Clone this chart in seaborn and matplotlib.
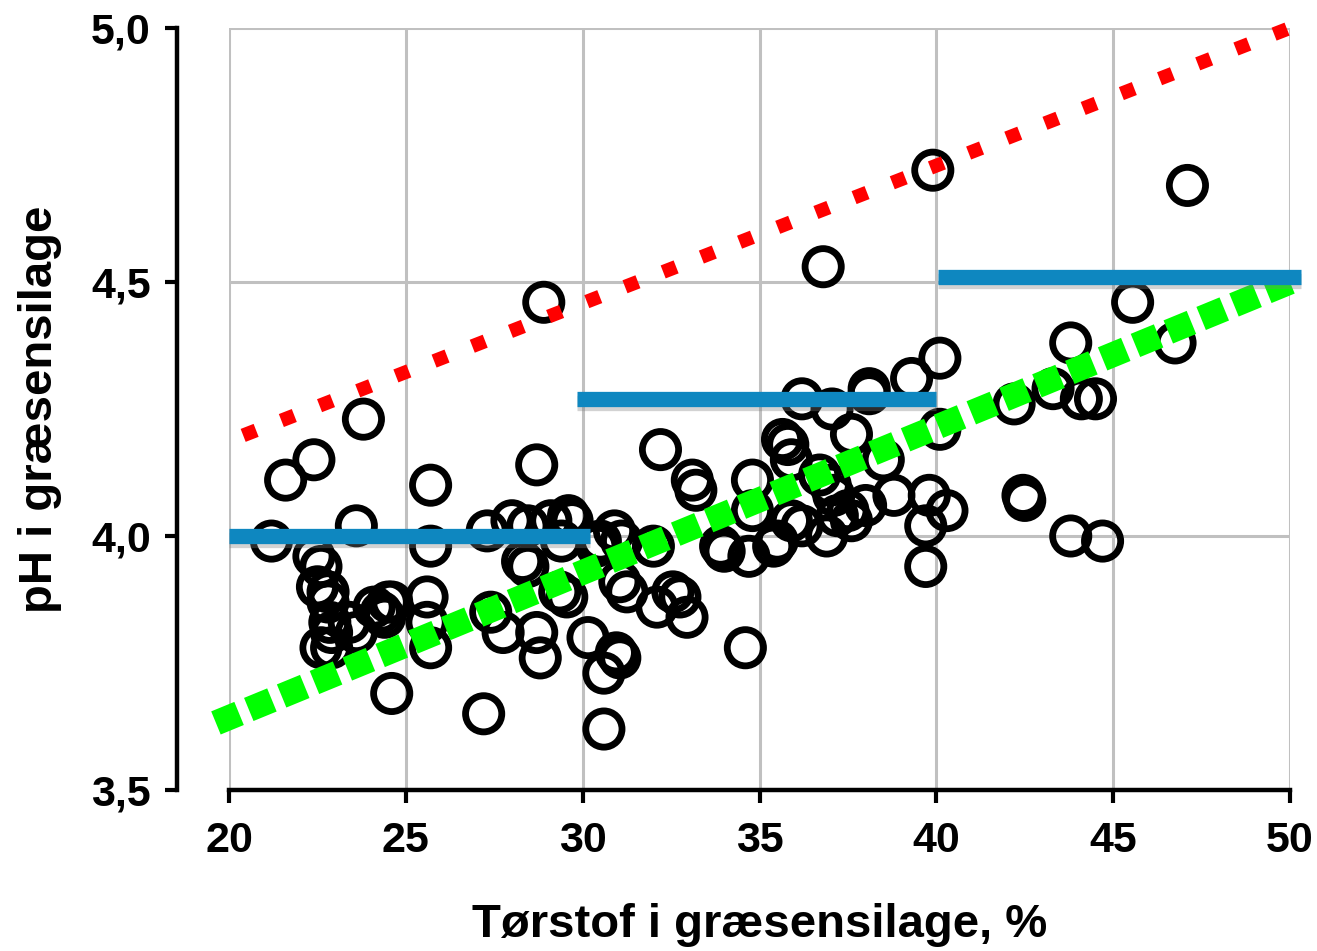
import matplotlib
matplotlib.use("Agg")
import matplotlib.pyplot as plt
import matplotlib.patheffects as pe
import numpy as np
import pandas as pd
import seaborn as sns

# dry matter (%) and pH of the grass silage samples
ts_pct = [21.2, 21.6, 22.4, 23.6, 23.8,
          22.4, 22.6, 22.5, 22.8, 22.8, 22.85, 22.9, 22.6, 22.9, 23.4, 23.6,
          24.1, 24.3, 24.5, 24.4, 24.6, 25.6, 25.6, 25.7, 25.7, 25.7, 24.6,
          27.3, 28.0, 28.45, 29.1, 29.6, 29.7, 28.3, 28.45, 29.55, 29.35,
          27.4, 27.75, 28.7, 28.8, 30.15, 30.6, 30.95, 30.9, 31.05, 31.25,
          27.2, 30.6, 28.7, 28.9, 30.4, 29.4, 30.5,
          32.2, 33.1, 33.2, 34.8, 34.8, 33.9, 34.0, 34.7, 35.5, 32.0, 31.1,
          32.55, 32.75, 32.1, 32.95, 34.6, 31.05, 35.65, 35.8, 35.9,
          36.2, 37.05, 38.1, 38.1, 39.3, 40.1, 37.6, 38.5, 40.1, 36.7, 37.0,
          37.1, 37.2, 36.2, 35.9, 35.4, 36.9, 37.6, 38.0, 38.8, 39.8, 39.7,
          40.3, 39.7, 37.5, 39.9, 36.8,
          43.8, 43.3, 44.1, 44.5, 42.2, 42.45, 42.5, 43.8, 44.7, 45.55,
          46.75, 47.1]
ph = [3.99, 4.11, 4.15, 4.02, 4.23,
      3.96, 3.94, 3.90, 3.89, 3.87, 3.83, 3.81, 3.78, 3.78, 3.83, 3.81,
      3.86, 3.85, 3.87, 3.84, 3.87, 3.88, 3.83, 3.78, 3.98, 4.10, 3.69,
      4.01, 4.03, 4.02, 4.03, 4.04, 4.03, 3.95, 3.94, 3.88, 3.89,
      3.85, 3.81, 3.81, 3.76, 3.80, 3.73, 3.77, 4.01, 3.91, 3.89,
      3.65, 3.62, 4.14, 4.46, 3.98, 3.99, 3.99,
      4.17, 4.11, 4.09, 4.11, 4.05, 3.98, 3.97, 3.96, 3.99, 3.98, 3.99,
      3.89, 3.88, 3.86, 3.84, 3.78, 3.76, 4.19, 4.18, 4.15,
      4.27, 4.25, 4.29, 4.28, 4.31, 4.35, 4.20, 4.15, 4.21, 4.12, 4.10,
      4.08, 4.04, 4.02, 4.03, 3.98, 4.00, 4.03, 4.06, 4.08, 4.08, 4.02,
      4.05, 3.94, 4.05, 4.72, 4.53,
      4.38, 4.29, 4.27, 4.27, 4.26, 4.08, 4.07, 4.00, 3.99, 4.46,
      4.38, 4.69]

# upper (red) and lower (green) limit lines, end points
upper_x = [20.4, 50.0]
upper_y = [4.198, 5.0]
lower_x = [19.63, 50.0]
lower_y = [3.632, 4.50]

# recommended pH levels per dry matter interval (blue)
step_x0 = [20.0, 29.85, 40.05]
step_x1 = [30.2, 40.0, 50.3]
step_ph = [4.00, 4.27, 4.51]

x_ticks = [20, 25, 30, 35, 40, 45, 50]
y_ticks = [3.5, 4.0, 4.5, 5.0]
y_tick_labels = ["3,5", "4,0", "4,5", "5,0"]

df = pd.DataFrame({"ts": ts_pct, "ph": ph})

sns.set_style("white")
plt.rcParams['font.family'] = ['Liberation Sans', 'DejaVu Sans']
plt.rcParams['font.weight'] = 'bold'
plt.rcParams['text.color'] = 'black'
plt.rcParams['axes.labelcolor'] = 'black'
plt.rcParams['xtick.color'] = 'black'
plt.rcParams['ytick.color'] = 'black'

fig = plt.figure(figsize=(13.17, 9.51), dpi=100)
ax = fig.add_axes([0.1739, 0.1693, 0.8056, 0.8013])

ax.set_xlim(20, 50)
ax.set_ylim(3.5, 5.0)
ax.set_xticks(x_ticks)
ax.set_yticks(y_ticks)
ax.set_yticklabels(y_tick_labels)
ax.grid(True, color="#c0c0c0", linewidth=2.2)
ax.set_axisbelow(True)

sns.scatterplot(data=df, x="ts", y="ph", ax=ax, s=680, marker="o",
                facecolors="none", edgecolor="black", linewidth=4.9,
                zorder=2, clip_on=False, legend=False)

ax.plot(lower_x, lower_y, color="#00ff00", linewidth=18,
        linestyle=(0, (1, 0.42)), dash_capstyle="butt", zorder=3,
        clip_on=False)
ax.plot(upper_x, upper_y, color="#ff0000", linewidth=10,
        linestyle=(0, (1, 1.95)), dash_capstyle="butt", zorder=3,
        clip_on=False)

for x0, x1, p in zip(step_x0, step_x1, step_ph):
    ax.plot([x0, x1], [p, p], color="#0e87c0", linewidth=11,
            solid_capstyle="butt", zorder=4, clip_on=False,
            path_effects=[pe.SimpleLineShadow(offset=(0, -3),
                                              shadow_color="gray", alpha=0.35),
                          pe.Normal()])

for side in ["top", "right"]:
    ax.spines[side].set_visible(False)
ax.spines["left"].set_position(("outward", 37.4))
for side in ["left", "bottom"]:
    ax.spines[side].set_linewidth(3.2)
    ax.spines[side].set_color("black")
    ax.spines[side].set_zorder(5)

ax.tick_params(axis="both", which="major", direction="out", length=9,
               width=3, color="black", labelsize=31, left=True, bottom=True,
               labelcolor="black")
ax.tick_params(axis="y", pad=10)
ax.tick_params(axis="x", pad=13)
for lab in ax.get_xticklabels() + ax.get_yticklabels():
    lab.set_fontweight("bold")

ax.set_xlabel("Tørstof i græsensilage, %", fontsize=34, fontweight="bold",
              color="black")
ax.set_ylabel("pH i græsensilage", fontsize=34, fontweight="bold",
              color="black")
ax.xaxis.set_label_coords(0.5, -0.177)
ax.xaxis.label.set_va("center")
ax.yaxis.set_label_coords(-0.178, 0.5)
ax.yaxis.label.set_va("center")

fig.savefig("out.png", dpi=100)
